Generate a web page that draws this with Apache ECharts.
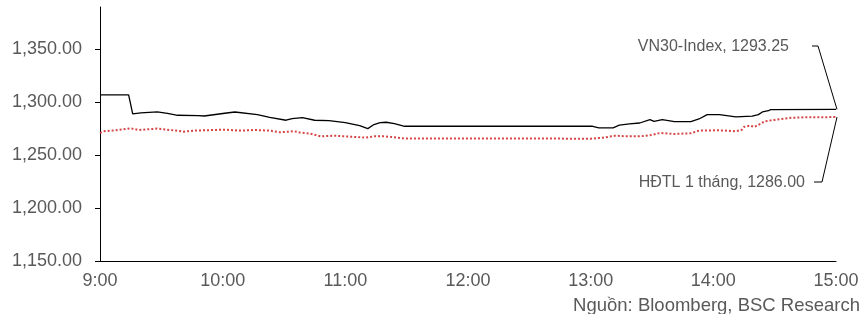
<!DOCTYPE html>
<html lang="vi">
<head>
    <meta charset="UTF-8">
    <title>VN30 vs HĐTL</title>
    <script src="https://cdn.jsdelivr.net/npm/echarts@6.0.0/dist/echarts.min.js"></script>
    <style>
        *{
            margin: 0;
            padding: 0;
        }
        body{
            background: #fff;
        }
        .container{
            width: 863px;
            height: 314px;
        }
    </style>
</head>
<body>
<div class="container"></div>
<script>
    // minutes after 9:00
    let vnTimes = [0, 14, 16, 20, 28, 33, 38, 48, 51, 61, 66, 77, 83, 91, 94, 99, 105, 112, 120, 127, 131, 134, 137, 140, 144, 149, 241, 244, 251, 254, 259, 264, 269, 271, 275, 281, 289, 293, 297, 303, 311, 319, 322, 324, 327, 328, 360];
    let vnValues = [1307, 1307, 1289, 1290, 1291, 1289.5, 1287.7, 1287.3, 1287, 1289.6, 1290.8, 1288.3, 1285.8, 1283, 1284.5, 1285.5, 1283, 1282.6, 1280.7, 1277.9, 1275.1, 1278.9, 1280.7, 1281.1, 1279.8, 1277.3, 1277.3, 1275.7, 1275.7, 1278.3, 1279.5, 1280.4, 1283.6, 1282, 1283.6, 1281.7, 1281.7, 1284.2, 1288.3, 1288.3, 1286.1, 1286.8, 1288.3, 1290.8, 1292, 1293, 1293.25];

    let futTimes = [0, 2, 9, 15, 19, 28, 37, 41, 46, 61, 68, 76, 83, 88, 95, 98, 103, 108, 115, 125, 130, 134, 139, 144, 149, 240, 246, 252, 257, 264, 269, 274, 281, 289, 293, 303, 311, 314, 315, 318, 320, 323, 325, 330, 337, 345, 360];
    let futValues = [1271, 1272.6, 1273.8, 1275.4, 1273.8, 1275.1, 1273.2, 1272.2, 1273.2, 1274.1, 1273.2, 1273.8, 1273.2, 1271.6, 1272.6, 1271.3, 1270.3, 1267.8, 1268.4, 1267.2, 1266.6, 1267.8, 1267.8, 1266.9, 1265.8, 1265.6, 1266.5, 1268.4, 1267.8, 1267.8, 1268.8, 1271, 1270, 1270.7, 1273.2, 1273.5, 1272.6, 1274.1, 1276.7, 1277.9, 1276.7, 1279.5, 1282, 1283.3, 1285.2, 1285.8, 1286];

    let yTicks = [1150, 1200, 1250, 1300, 1350];
    let vnName = 'VN30-Index';
    let futName = 'HĐTL 1 tháng';
    let source = 'Nguồn: Bloomberg, BSC Research';

    let font = '"Liberation Sans", Arial, sans-serif';
    let gray = '#595959';

    let zip = (ts, vs) => ts.map((t, i) => [t, vs[i]]);

    // only the last point carries the "name, value" label
    let makeData = (ts, vs, name) => zip(ts, vs).map((p, i) => {
        if (i < ts.length - 1) return p;
        return {
            value: p,
            label: {
                show: true,
                formatter: name + ', ' + p[1].toFixed(2),
                color: gray,
                fontSize: 16,
                fontFamily: font
            }
        };
    });

    let container = document.querySelector('.container');
    let mycharts = echarts.init(container);

    let options = {
        animation: false,
        textStyle: {fontFamily: font},
        grid: {left: 100, right: 27, top: 7, bottom: 53, outerBoundsMode: 'none'},
        xAxis: {
            type: 'value',
            min: 0,
            max: 360,
            interval: 60,
            splitLine: {show: false},
            axisTick: {show: false},
            axisLine: {lineStyle: {color: '#000', width: 1}},
            axisLabel: {
                color: gray,
                fontSize: 18,
                margin: 11,
                formatter: v => (9 + Math.floor(v / 60)) + ':' + String(v % 60).padStart(2, '0')
            }
        },
        yAxis: {
            type: 'value',
            min: 1150,
            max: 1390,
            interval: 50,
            splitLine: {show: false},
            axisLine: {show: true, lineStyle: {color: '#000', width: 1}},
            axisTick: {show: true, length: 5, customValues: yTicks, lineStyle: {color: '#000'}},
            axisLabel: {
                color: gray,
                fontSize: 18,
                margin: 18,
                customValues: yTicks,
                formatter: v => v.toLocaleString('en-US', {minimumFractionDigits: 2, maximumFractionDigits: 2})
            }
        },
        series: [{
            name: vnName,
            type: 'line',
            data: makeData(vnTimes, vnValues, vnName),
            symbol: 'circle',
            symbolSize: 0,
            showSymbol: true,
            label: {show: false},
            lineStyle: {color: '#000', width: 1.3},
            itemStyle: {color: '#000'},
            labelLayout: p => p.dataIndex === vnTimes.length - 1
                ? {x: 789, y: 47, align: 'right', verticalAlign: 'middle'} : {}
        }, {
            name: futName,
            type: 'line',
            data: makeData(futTimes, futValues, futName),
            symbol: 'circle',
            symbolSize: 0,
            showSymbol: true,
            label: {show: false},
            lineStyle: {color: '#d64545', width: 2, type: [2, 2]},
            itemStyle: {color: '#d64545'},
            labelLayout: p => p.dataIndex === futTimes.length - 1
                ? {x: 805, y: 183, align: 'right', verticalAlign: 'middle'} : {}
        }]
    };

    mycharts.setOption(options);

    // leader lines from the labels to the last points
    let vnEnd = mycharts.convertToPixel({seriesIndex: 0}, [vnTimes[vnTimes.length - 1], vnValues[vnValues.length - 1]]);
    let futEnd = mycharts.convertToPixel({seriesIndex: 1}, [futTimes[futTimes.length - 1], futValues[futValues.length - 1]]);

    mycharts.setOption({
        graphic: [{
            type: 'polyline',
            shape: {points: [[812, 46], [818, 46], [vnEnd[0] + 1, vnEnd[1]]]},
            style: {stroke: '#000', lineWidth: 1, fill: null}
        }, {
            type: 'polyline',
            shape: {points: [[814, 182], [822, 182], [futEnd[0] + 1, futEnd[1]]]},
            style: {stroke: '#000', lineWidth: 1, fill: null}
        }, {
            type: 'text',
            right: 3,
            top: 296,
            style: {
                text: source,
                fill: gray,
                font: '18.5px ' + font
            }
        }]
    });
</script>
</body>
</html>
